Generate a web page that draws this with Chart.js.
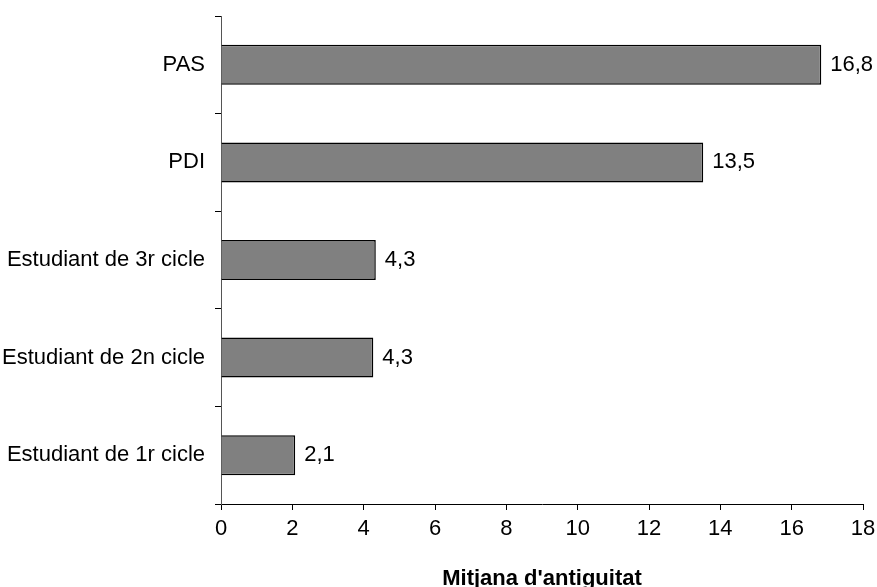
<!DOCTYPE html>
<html>
<head>
<meta charset="utf-8">
<script src="https://cdn.jsdelivr.net/npm/chart.js@4"></script>
<style>
  html, body { margin: 0; padding: 0; background: #fff; }
  #wrap { width: 877px; height: 587px; }
</style>
</head>
<body>
<div id="wrap"><canvas id="c" width="877" height="587"></canvas></div>
<script>
// Mean seniority (years) by group
const categories = ['PAS', 'PDI', 'Estudiant de 3r cicle', 'Estudiant de 2n cicle', 'Estudiant de 1r cicle'];
const antiguitat = [16.83, 13.52, 4.34, 4.27, 2.08];
const xTicks = [0, 2, 4, 6, 8, 10, 12, 14, 16, 18];
const axisTitle = "Mitjana d'antiguitat";

const FONT = '"Liberation Sans", Arial, sans-serif';

// Value label at the end of each bar, decimal comma
const valueLabels = {
  id: 'valueLabels',
  afterDatasetsDraw(chart) {
    const ctx = chart.ctx;
    const meta = chart.getDatasetMeta(0);
    ctx.save();
    ctx.font = '22px ' + FONT;
    ctx.fillStyle = '#000';
    ctx.textAlign = 'left';
    ctx.textBaseline = 'middle';
    meta.data.forEach((bar, i) => {
      const txt = antiguitat[i].toFixed(1).replace('.', ',');
      ctx.fillText(txt, bar.x + 9, bar.y);
    });
    ctx.restore();
  }
};

new Chart(document.getElementById('c'), {
  type: 'bar',
  data: {
    labels: categories,
    datasets: [{
      data: antiguitat,
      backgroundColor: '#808080',
      borderColor: '#000',
      borderWidth: 1.5,
      barPercentage: 0.41,
      categoryPercentage: 1
    }]
  },
  options: {
    indexAxis: 'y',
    responsive: false,
    animation: false,
    layout: { padding: { top: 16, right: 14, left: 0, bottom: 0 } },
    plugins: { legend: { display: false }, tooltip: { enabled: false } },
    scales: {
      x: {
        min: 0, max: 18,
        afterBuildTicks(s) { s.ticks = xTicks.map(v => ({ value: v })); },
        afterFit(s) { s.height = 83; s.paddingRight = 0; s.paddingLeft = 0; },
        border: { display: true, color: '#000', width: 1 },
        grid: { drawOnChartArea: false, drawTicks: true, tickLength: 6, color: '#000' },
        ticks: { color: '#000', font: { family: FONT, size: 22 }, padding: 6, maxRotation: 0 },
        title: {
          display: true, text: axisTitle, color: '#000',
          font: { family: FONT, size: 22, weight: 'bold' },
          padding: { top: 16, bottom: -5 }
        }
      },
      y: {
        offset: true,
        afterFit(s) { s.width = 221; s.paddingTop = 0; s.paddingBottom = 0; },
        border: { display: true, color: '#555', width: 1 },
        grid: { offset: true, drawOnChartArea: false, drawTicks: true, tickLength: 6, color: '#000' },
        ticks: { color: '#000', font: { family: FONT, size: 22 }, padding: 10, crossAlign: 'near' }
      }
    }
  },
  plugins: [valueLabels]
});
</script>
</body>
</html>
